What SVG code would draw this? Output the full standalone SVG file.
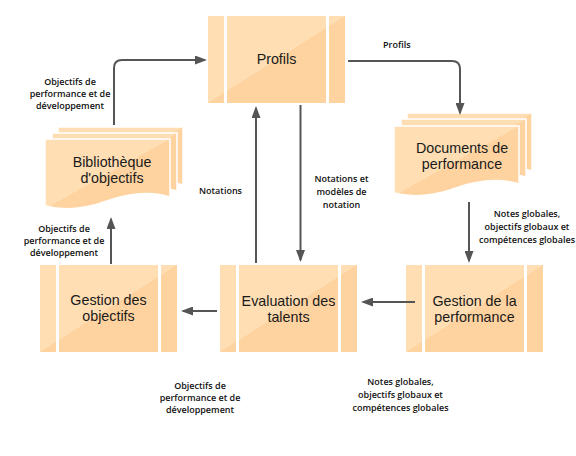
<svg xmlns="http://www.w3.org/2000/svg" xmlns:xlink="http://www.w3.org/1999/xlink" width="576" height="456" viewBox="0 0 576 456">
<style>
.nt{font-family:"Liberation Sans",Arial,sans-serif;font-size:14.3px;fill:#1a1a1a;text-anchor:middle}
.lb{font-family:"Open Sans","Liberation Sans",sans-serif;font-size:9px;font-weight:600;fill:#111}
.lc{text-anchor:middle}
.box{fill:url(#g)}
.sep{stroke:#fff;stroke-width:3}
.doc{fill:url(#g);stroke:#fff;stroke-width:1.5}
.cn{fill:none;stroke:#555;stroke-width:2;marker-end:url(#ah)}
</style>
<defs>
<linearGradient id="g" x1="0" y1="0" x2="1" y2="1">
<stop offset="0.5" stop-color="#FFDEB4"/>
<stop offset="0.5" stop-color="#FFD3A0"/>
</linearGradient>
<path id="docshape" d="M0,0 H125 V58 C105,52 84,54 62,62 C40,70 20,72 0,67 Z"/>
<marker id="ah" markerWidth="12" markerHeight="9" refX="10" refY="4.5" orient="auto" markerUnits="userSpaceOnUse">
<path d="M0,0 L12,4.5 L0,9 Z" fill="#555"/>
</marker>
</defs>
<rect width="576" height="456" fill="#fff"/>

<g id="profils">
<rect class="box" x="208" y="16" width="137" height="87"/>
<line class="sep" x1="225.5" y1="16" x2="225.5" y2="103"/>
<line class="sep" x1="327.5" y1="16" x2="327.5" y2="103"/>
<text class="nt" x="276.5" y="64">Profils</text>
</g>

<g id="bibliotheque">
<use class="doc" xlink:href="#docshape" x="58" y="127"/>
<use class="doc" xlink:href="#docshape" x="52" y="133"/>
<use class="doc" xlink:href="#docshape" x="45" y="139"/>
<text class="nt" x="112" y="167">Bibliothèque<tspan x="112" dy="16">d'objectifs</tspan></text>
</g>

<g id="documents">
<use class="doc" xlink:href="#docshape" x="407" y="113"/>
<use class="doc" xlink:href="#docshape" x="401" y="119"/>
<use class="doc" xlink:href="#docshape" x="394" y="126"/>
<text class="nt" x="462" y="153">Documents de<tspan x="462" dy="16">performance</tspan></text>
</g>

<g id="gestion-objectifs">
<rect class="box" x="40" y="265" width="137" height="87"/>
<line class="sep" x1="57.5" y1="265" x2="57.5" y2="352"/>
<line class="sep" x1="159.5" y1="265" x2="159.5" y2="352"/>
<text class="nt" x="108.5" y="305">Gestion des<tspan x="108.5" dy="16">objectifs</tspan></text>
</g>

<g id="evaluation">
<rect class="box" x="220" y="265" width="137" height="87"/>
<line class="sep" x1="237.5" y1="265" x2="237.5" y2="352"/>
<line class="sep" x1="339.5" y1="265" x2="339.5" y2="352"/>
<text class="nt" x="288.5" y="306">Evaluation des<tspan x="288.5" dy="16">talents</tspan></text>
</g>

<g id="gestion-performance">
<rect class="box" x="406" y="265" width="137" height="87"/>
<line class="sep" x1="423.5" y1="265" x2="423.5" y2="352"/>
<line class="sep" x1="525.5" y1="265" x2="525.5" y2="352"/>
<text class="nt" x="474.5" y="305.5">Gestion de la<tspan x="474.5" dy="16">performance</tspan></text>
</g>

<g id="connectors">
<path class="cn" d="M114,125 V68 Q114,60 122,60 H205"/>
<path class="cn" d="M348,61 H452 Q460,61 460,69 V113"/>
<path class="cn" d="M469,202 V261"/>
<path class="cn" d="M415,302 H363"/>
<path class="cn" d="M217,311 H183"/>
<path class="cn" d="M111,264 V219"/>
<path class="cn" d="M256,263 V108"/>
<path class="cn" d="M300.5,105 V260"/>
</g>

<g id="labels">
<text class="lb lc" x="70" y="85">Objectifs de<tspan x="70" dy="12">performance et de</tspan><tspan x="70" dy="12">développement</tspan></text>
<text class="lb" x="383" y="48">Profils</text>
<text class="lb" x="199" y="194">Notations</text>
<text class="lb lc" x="341.5" y="182">Notations et<tspan x="341.5" dy="13">modèles de</tspan><tspan x="341.5" dy="13">notation</tspan></text>
<text class="lb lc" x="527" y="217">Notes globales,<tspan x="527" dy="13">objectifs globaux et</tspan><tspan x="527" dy="13">compétences globales</tspan></text>
<text class="lb lc" x="64" y="232">Objectifs de<tspan x="64" dy="12">performance et de</tspan><tspan x="64" dy="12">développement</tspan></text>
<text class="lb lc" x="200" y="389">Objectifs de<tspan x="200" dy="12">performance et de</tspan><tspan x="200" dy="12">développement</tspan></text>
<text class="lb lc" x="400.5" y="385">Notes globales,<tspan x="400.5" dy="13">objectifs globaux et</tspan><tspan x="400.5" dy="13">compétences globales</tspan></text>
</g>
</svg>
